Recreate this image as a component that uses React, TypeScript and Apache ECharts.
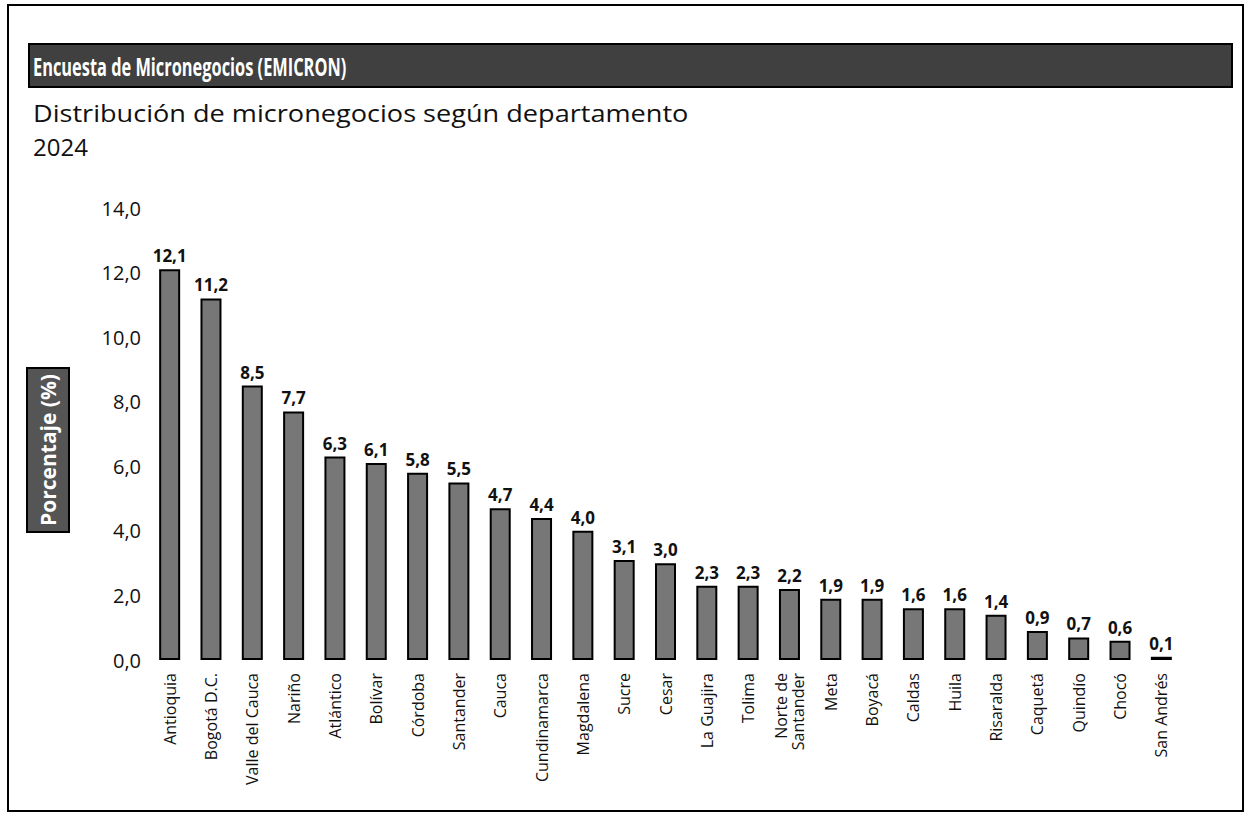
import React, { useEffect, useRef } from "react";
import * as echarts from "echarts";

const categories = [
  "Antioquia", "Bogotá D.C.", "Valle del Cauca", "Nariño", "Atlántico", "Bolívar",
  "Córdoba", "Santander", "Cauca", "Cundinamarca", "Magdalena", "Sucre", "Cesar",
  "La Guajira", "Tolima", "Norte de Santander", "Meta", "Boyacá", "Caldas", "Huila",
  "Risaralda", "Caquetá", "Quindío", "Chocó", "San Andrés",
];
const values = [
  12.1, 11.2, 8.5, 7.7, 6.3, 6.1, 5.8, 5.5, 4.7, 4.4, 4.0, 3.1, 3.0,
  2.3, 2.3, 2.2, 1.9, 1.9, 1.6, 1.6, 1.4, 0.9, 0.7, 0.6, 0.1,
];
const yTicks = { min: 0, max: 14, interval: 2 };
const titleText = "Encuesta de Micronegocios (EMICRON)";
const subtitleText = "Distribución de micronegocios según departamento";
const yearText = "2024";
const yAxisName = "Porcentaje (%)";

const fmt = (v: number) => v.toFixed(1).replace(".", ",");

export default function App() {
  const ref = useRef<HTMLDivElement>(null);
  useEffect(() => {
    if (!ref.current) return;
    const chart = echarts.init(ref.current, undefined, { renderer: "svg" });
    chart.setOption({
      animation: false,
      backgroundColor: "#ffffff",
      grid: { left: 149, right: 67, top: 208, bottom: 156, containLabel: false },
      xAxis: {
        type: "category",
        data: categories,
        axisLine: { show: false },
        axisTick: { show: false },
        axisLabel: {
          rotate: 90,
          interval: 0,
          margin: 13,
          fontSize: 16,
          color: "#111",
          fontFamily: "Open Sans",
          lineHeight: 17,
          formatter: (v: string) => (v === "Norte de Santander" ? "Norte de\nSantander" : v),
        },
      },
      yAxis: {
        type: "value",
        min: yTicks.min,
        max: yTicks.max,
        interval: yTicks.interval,
        splitLine: { show: false },
        axisLine: { show: false },
        axisTick: { show: false },
        axisLabel: {
          margin: 8,
          fontSize: 20,
          color: "#111",
          fontFamily: "Open Sans",
          formatter: (v: number) => fmt(v),
        },
      },
      series: [
        {
          type: "bar",
          data: values,
          barWidth: 21,
          itemStyle: { color: "#777777", borderColor: "#000", borderWidth: 2 },
          label: {
            show: true,
            position: "top",
            distance: 5,
            fontSize: 17,
            fontWeight: "bold",
            color: "#111",
            fontFamily: "Open Sans",
            formatter: (p: any) => fmt(p.value),
          },
        },
      ],
      graphic: [
        {
          type: "rect",
          shape: { x: 8, y: 5, width: 1235, height: 806 },
          style: { fill: "none", stroke: "#000", lineWidth: 2 },
        },
        {
          type: "rect",
          shape: { x: 29, y: 44, width: 1203, height: 43 },
          style: { fill: "#404040", stroke: "#000", lineWidth: 2 },
        },
        {
          type: "text",
          x: 33,
          y: 66,
          scaleX: 0.655,
          style: {
            text: titleText,
            fill: "#fff",
            font: "bold 25px 'Open Sans', sans-serif",
            verticalAlign: "middle",
          },
        },
        {
          type: "text",
          x: 33,
          y: 113,
          scaleX: 1.13,
          style: {
            text: subtitleText,
            fill: "#111",
            font: "24px 'Open Sans', sans-serif",
            verticalAlign: "middle",
          },
        },
        {
          type: "text",
          x: 33,
          y: 146,
          style: {
            text: yearText,
            fill: "#111",
            font: "24px 'Open Sans', sans-serif",
            verticalAlign: "middle",
          },
        },
        {
          type: "group",
          x: 48,
          y: 450,
          rotation: Math.PI / 2,
          children: [
            {
              type: "rect",
              shape: { x: -82, y: -21, width: 164, height: 42 },
              style: { fill: "#555555", stroke: "#000", lineWidth: 2 },
            },
            {
              type: "text",
              x: 0,
              y: 0,
              style: {
                text: yAxisName,
                fill: "#fff",
                font: "bold 21px 'Open Sans', sans-serif",
                align: "center",
                verticalAlign: "middle",
              },
            },
          ],
        },
      ],
    });
    return () => chart.dispose();
  }, []);
  return (
    <div
      ref={ref}
      style={{ position: "absolute", left: 0, top: 0, width: 1249, height: 816 }}
    />
  );
}
